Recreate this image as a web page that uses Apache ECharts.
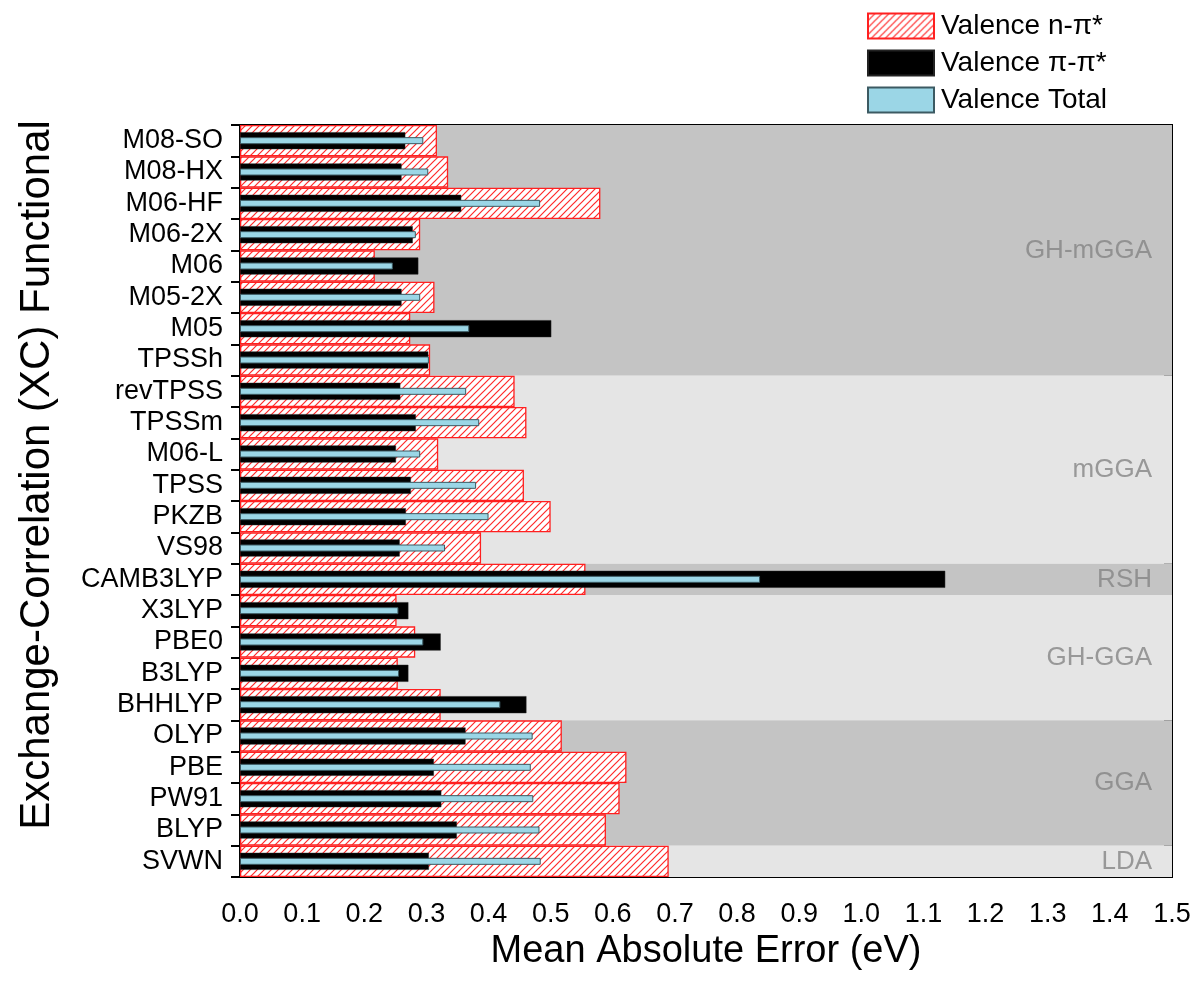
<!DOCTYPE html>
<html>
<head>
<meta charset="utf-8">
<script src="https://cdn.jsdelivr.net/npm/echarts@6/dist/echarts.min.js"></script>
<style>
html,body{margin:0;padding:0;background:#fff;}
#chart{width:1195px;height:991px;}
</style>
</head>
<body>
<div id="chart"></div>
<script>
// ---------- data ----------
var categories = ['M08-SO','M08-HX','M06-HF','M06-2X','M06','M05-2X','M05','TPSSh','revTPSS','TPSSm','M06-L','TPSS','PKZB','VS98','CAMB3LYP','X3LYP','PBE0','B3LYP','BHHLYP','OLYP','PBE','PW91','BLYP','SVWN'];
var nPiValues  = [0.317,0.335,0.580,0.290,0.217,0.313,0.274,0.306,0.442,0.461,0.319,0.457,0.500,0.388,0.556,0.252,0.282,0.254,0.323,0.518,0.622,0.611,0.589,0.690];
var piPiValues = [0.266,0.260,0.356,0.278,0.287,0.260,0.501,0.303,0.258,0.283,0.251,0.275,0.267,0.257,1.135,0.271,0.323,0.271,0.461,0.363,0.312,0.324,0.349,0.304];
var totalValues= [0.295,0.303,0.483,0.283,0.246,0.290,0.369,0.304,0.364,0.385,0.290,0.380,0.400,0.330,0.837,0.255,0.295,0.256,0.419,0.471,0.468,0.472,0.482,0.484];
var groupNames = ['GH-mGGA','mGGA','RSH','GH-GGA','GGA','LDA'];
var groupSizes = [8,6,1,4,4,1];
var groupShade = ['dark','light','dark','light','dark','light'];
var seriesNames = ['Valence n-\u03c0*','Valence \u03c0-\u03c0*','Valence Total'];
var xTicks = [0.0,0.1,0.2,0.3,0.4,0.5,0.6,0.7,0.8,0.9,1.0,1.1,1.2,1.3,1.4,1.5];

// ---------- styles ----------
var FONT = '"Liberation Sans", Arial, Helvetica, sans-serif';
var shadeColor = {dark:'#c4c4c4', light:'#e5e5e5'};

function hatch(){
  var s = 7;
  var c = document.createElement('canvas');
  c.width = s; c.height = s;
  var g = c.getContext('2d');
  g.fillStyle = '#ffffff';
  g.fillRect(0,0,s,s);
  g.strokeStyle = '#ff2a2a';
  g.lineWidth = 1.2;
  g.beginPath();
  g.moveTo(-1, s+1); g.lineTo(s+1, -1);
  g.moveTo(-1, 1); g.lineTo(1, -1);
  g.moveTo(s-1, s+1); g.lineTo(s+1, s-1);
  g.stroke();
  return c;
}

// bands and group labels built from the group arrays
var bandAreas = [], groupLabels = [], start = 0;
for (var i = 0; i < groupNames.length; i++) {
  var end = start + groupSizes[i];
  bandAreas.push([{yAxis:start, itemStyle:{color:shadeColor[groupShade[i]]}},{yAxis:end}]);
  groupLabels.push({value:[xTicks[xTicks.length-1], (start+end)/2], name:groupNames[i]});
  start = end;
}

var chart = echarts.init(document.getElementById('chart'), null, {renderer:'canvas'});
var catAxisBase = {type:'category', data:categories, inverse:true, boundaryGap:true,
  axisLabel:{show:false}, splitLine:{show:false}};

var option = {
  backgroundColor:'#ffffff',
  animation:false,
  textStyle:{fontFamily:FONT},
  grid:{left:240, right:23, top:125, bottom:114, show:true, borderColor:'#000', borderWidth:2, backgroundColor:'transparent'},
  legend:{
    orient:'vertical', left:862, top:7,
    itemWidth:66, itemHeight:25, itemGap:9,
    icon:'rect',
    data:seriesNames,
    textStyle:{fontFamily:FONT, fontSize:28, color:'#000', padding:[0,0,0,2]},
    selectedMode:false
  },
  xAxis:{
    type:'value', min:0, max:1.5, interval:0.1,
    name:'Mean Absolute Error (eV)', nameLocation:'middle', nameGap:54,
    nameTextStyle:{fontFamily:FONT, fontSize:38, color:'#000'},
    axisLine:{show:true, lineStyle:{color:'#000', width:2}},
    axisTick:{show:true, length:16, lineStyle:{color:'#000', width:2}},
    axisLabel:{fontFamily:FONT, fontSize:27, color:'#000', margin:24,
      formatter:function(v){return v.toFixed(1);}},
    splitLine:{show:false}
  },
  yAxis:[
    Object.assign({}, catAxisBase, {
      position:'left',
      name:'Exchange-Correlation (XC) Functional', nameLocation:'middle', nameGap:182,
      nameTextStyle:{fontFamily:FONT, fontSize:42, color:'#000', padding:[0,0,0,52]},
      axisLine:{show:true, lineStyle:{color:'#000', width:2}},
      axisTick:{show:true, inside:false, length:9, lineStyle:{color:'#000', width:2}},
      axisLabel:{show:true, interval:0, fontFamily:FONT, fontSize:27, color:'#000', margin:17}
    }),
    Object.assign({}, catAxisBase, {
      position:'left',
      axisLine:{show:false},
      axisTick:{show:true, inside:true, length:7, lineStyle:{color:'#000', width:2}}
    }),
    Object.assign({}, catAxisBase, {
      position:'right',
      axisLine:{show:true, lineStyle:{color:'#000', width:2}},
      axisTick:{show:true, inside:true, length:8, lineStyle:{color:'#000', width:2}}
    }),
    {type:'value', min:0, max:categories.length, inverse:true, show:false}
  ],
  series:[
    {
      type:'scatter', name:'bands', xAxisIndex:0, yAxisIndex:3, z:1,
      symbolSize:0, silent:true,
      data:groupLabels,
      label:{show:true, position:'left', distance:20, formatter:'{b}',
        fontFamily:FONT, fontSize:26, color:'#858585'},
      markArea:{silent:true, data:bandAreas}
    },
    {
      type:'bar', name:seriesNames[0], yAxisIndex:0, z:3,
      barWidth:'100%',
      data:nPiValues,
      itemStyle:{color:{image:hatch(), repeat:'repeat'}, borderColor:'#ff2020', borderWidth:1.3}
    },
    {
      type:'bar', name:seriesNames[1], yAxisIndex:1, z:4,
      barWidth:17,
      data:piPiValues,
      itemStyle:{color:'#000000', borderColor:'#222', borderWidth:0.5}
    },
    {
      type:'bar', name:seriesNames[2], yAxisIndex:2, z:5,
      barWidth:7,
      data:totalValues,
      itemStyle:{color:'#9bd6e6', borderColor:'#3c5a62', borderWidth:1}
    }
  ]
};
chart.setOption(option);
</script>
</body>
</html>
